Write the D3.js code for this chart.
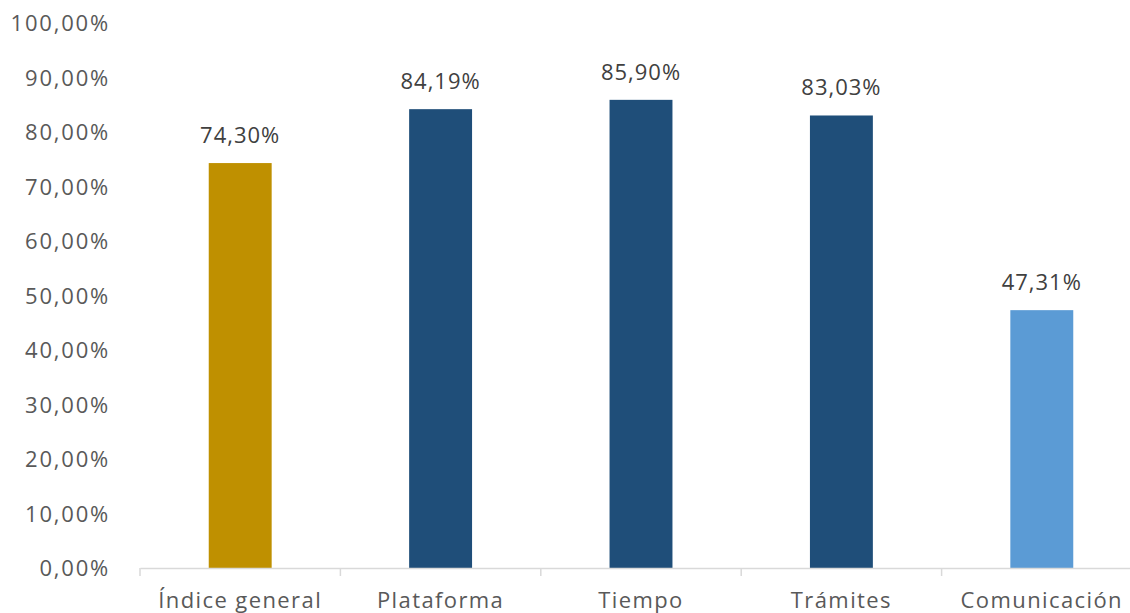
<!DOCTYPE html>
<html><head><meta charset="utf-8">
<script src="https://cdn.jsdelivr.net/npm/d3@7"></script>
<style>
html,body{margin:0;padding:0;background:#fff;overflow:hidden}
text{font-family:"Open Sans",sans-serif}
</style></head>
<body><svg id="c" width="1130" height="613"></svg>
<script>
const categories = ["Índice general","Plataforma","Tiempo","Trámites","Comunicación"];
const values = [74.30, 84.19, 85.90, 83.03, 47.31];
const colors = ["#BF9000","#1F4E79","#1F4E79","#1F4E79","#5B9BD5"];
const yTicks = [0,10,20,30,40,50,60,70,80,90,100];

const svg = d3.select("#c");
const x = d3.scaleBand().domain(categories).range([140,1142]).paddingInner(0.686).paddingOuter(0.343);
const y = d3.scaleLinear().domain([0,100]).range([568,23]);
const fmt = v => v.toFixed(2).replace(".", ",") + "%";

// y axis labels
const ya = svg.append("g").attr("transform","translate(110,0)")
  .call(d3.axisLeft(y).tickValues(yTicks).tickSize(0).tickPadding(0).tickFormat(fmt));
ya.select(".domain").remove();
ya.selectAll("text").attr("font-family","Open Sans").attr("font-size",22)
  .attr("fill","#595959").attr("letter-spacing","1.8px").attr("dy","0.35em").attr("text-anchor","end");

// bars
svg.append("g").selectAll("rect").data(values).join("rect")
  .attr("x",(d,i)=>x(categories[i]))
  .attr("width",x.bandwidth())
  .attr("y",d=>y(d))
  .attr("height",d=>y(0)-y(d))
  .attr("fill",(d,i)=>colors[i]);

// x axis
const xOuter = d3.scaleBand().domain(categories).range([140,1142]);
const xa = svg.append("g").attr("transform","translate(0,568)")
  .call(d3.axisBottom(xOuter).tickSize(0).tickPadding(40));
xa.select(".domain").attr("stroke","#d9d9d9").attr("stroke-width",1.5);
xa.selectAll("text").attr("font-family","Open Sans").attr("font-size",22)
  .attr("fill","#595959").attr("letter-spacing","1.4px").attr("dy","0");
// category boundary ticks
const bounds = categories.map(c=>xOuter(c)).concat([xOuter(categories[categories.length-1])+xOuter.bandwidth()]);
svg.append("g").selectAll("line").data(bounds).join("line")
  .attr("x1",d=>d).attr("x2",d=>d).attr("y1",568).attr("y2",576)
  .attr("stroke","#d9d9d9").attr("stroke-width",1.5);

// data labels
svg.append("g").selectAll("text").data(values).join("text")
  .attr("x",(d,i)=>x(categories[i])+x.bandwidth()/2)
  .attr("y",d=>y(d)-20)
  .attr("text-anchor","middle").attr("font-size",22).attr("fill","#404040")
  .attr("letter-spacing","1px")
  .text(fmt);
</script></body></html>
